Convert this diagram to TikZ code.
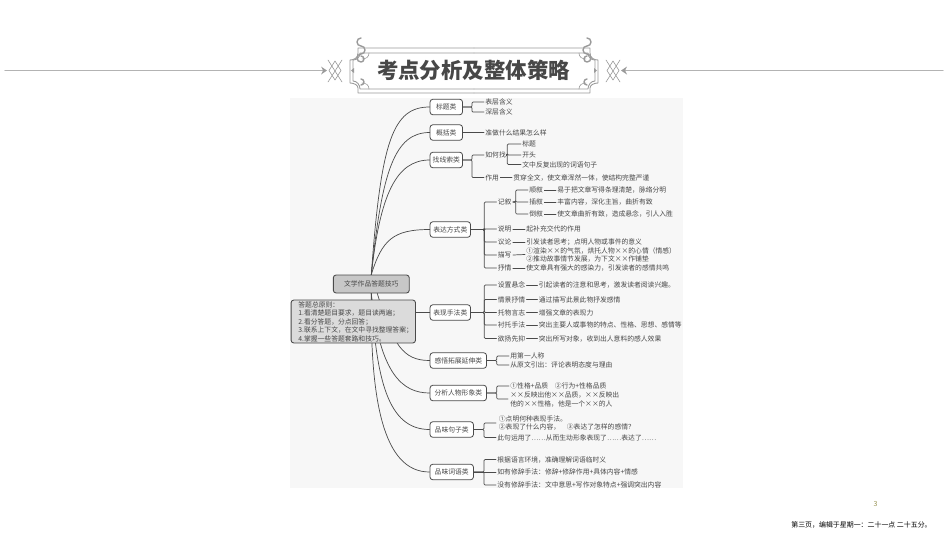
\documentclass[tikz,border=0pt]{standalone}
\usepackage{fontspec}
\setmainfont{Noto Sans CJK SC}
\usepackage{tikz}
\usetikzlibrary{positioning}
\definecolor{panelgray}{HTML}{F7F7F7}
\definecolor{linegray}{HTML}{4A4A4A}
\definecolor{framegray}{HTML}{9A9A9A}
\newcommand{\qdou}{\char"FF0C\relax}
\newcommand{\qmao}{\char"FF1A\relax}
\newcommand{\qfen}{\char"FF1B\relax}
\newcommand{\qwen}{\char"FF1F\relax}
\newcommand{\qzuo}{\char"FF08\relax}
\newcommand{\qyou}{\char"FF09\relax}
\tikzset{
  leaf/.style={anchor=west,inner sep=0.6pt,text=black!72,font=\fontsize{3.87}{4.6}\selectfont},
  cat/.style={draw=linegray,line width=0.45pt,rounded corners=1.6pt,fill=white,minimum height=0.31cm,inner sep=0pt,text=black!72,font=\fontsize{3.87}{4.6}\selectfont},
  conn/.style={draw=linegray,line width=0.4pt,rounded corners=0.6pt},
  curve/.style={draw=linegray,line width=0.4pt}
}
\begin{document}
\begin{tikzpicture}[line cap=round,line join=round,x=0.02cm,y=-0.02cm]
\useasboundingbox (0,0) rectangle (950,535);
% banner
\foreach \side in {1,-1} {
\begin{scope}[shift={(474,0)},xscale=\side]
\draw [framegray!75,line width=0.8pt] (-469,70.5)-- (-149,70.5);
\fill [framegray] (-147,70.5)-- (-153,66.5)-- (-151,70.5)-- (-153,74.5)-- cycle;
\draw [framegray,line width=0.35pt] (-146,60)-- (-132,82) (-132,60)-- (-146,82) (-139,61)-- (-133,70.5)-- (-139,80)-- (-145,70.5)-- cycle;
\draw [framegray,line width=0.5pt] (0,48)-- (-116,48)-- (-116,53) .. controls (-116,58) and (-120,60) .. (-124,60)-- (-124,83) .. controls (-120,83) and (-116,85) .. (-116,88)-- (-116,93)-- (0,93);
\draw [framegray,line width=0.5pt] (0,53)-- (-114,53) .. controls (-114,57) and (-117,60) .. (-121,60)-- (-121,81) .. controls (-117,81) and (-114,85) .. (-114,89)-- (0,89);
\draw [framegray,line width=0.35pt] (-105,53) .. controls (-105,57) and (-108,59) .. (-112,59) (-105,89) .. controls (-105,85) and (-108,83) .. (-112,83);
\draw [framegray,line width=0.8pt] (-113,62) arc (90:270:4) arc (90:-90:4) arc (90:270:4) (-113,62) arc (90:-90:3) (-113,79) arc (-90:90:3);
\fill [framegray] (-123,70.5)-- (-120,68)-- (-120,73)-- cycle;
\end{scope}
}
\node (title) at (473.5,70.5) [inner sep=0pt,text=black!72,font=\fontsize{12.2}{14}\selectfont\bfseries] {考点分析及整体策略};
% panel
\fill [panelgray] (290,98) rectangle (683,488);
% main nodes
\node (root) at (371.3,284) [cat,fill=black!22,line width=0.5pt,minimum width=1.52cm,minimum height=0.36cm] {文学作品答题技巧};
\node (biaoti) at (446.3,107) [cat,minimum width=0.65cm] {标题类};
\node (gaikuo) at (446.3,132.5) [cat,minimum width=0.65cm] {概括类};
\node (xiansuo) at (446.3,160) [cat,minimum width=0.65cm] {找线索类};
\node (biaoda) at (450.3,229.5) [cat,minimum width=0.81cm] {表达方式类};
\node (shoufa) at (450.3,312.5) [cat,minimum width=0.81cm] {表现手法类};
\node (ganwu) at (458.3,360.5) [cat,minimum width=1.13cm] {感悟拓展延伸类};
\node (renwu) at (458.3,393) [cat,minimum width=1.13cm] {分析人物形象类};
\node (juzi) at (451.7,429.5) [cat,minimum width=0.87cm] {品味句子类};
\node (ciyu) at (451.7,472) [cat,minimum width=0.87cm] {品味词语类};
% curves from the root
\draw [curve] (root.north) .. controls (381,140) and (393,107) .. (biaoti.west);
\draw [curve] (root.north) .. controls (382,170) and (395,132.5) .. (gaikuo.west);
\draw [curve] (root.north) .. controls (380,195) and (396,160) .. (xiansuo.west);
\draw [curve] (root.north) .. controls (382,240) and (393,229.5) .. (biaoda.west);
\draw [curve] ([xshift=0.12cm]root.south) .. controls (393,345) and (403,360.5) .. (ganwu.west);
\draw [curve] (root.south) .. controls (380,375) and (403,393) .. (renwu.west);
\draw [curve] (root.south) .. controls (376,380) and (388,429.5) .. (juzi.west);
\draw [curve] (root.south) .. controls (370,400) and (383,472) .. (ciyu.west);
% principles
\node (yuanzebox) at (353.3,321.5) [draw=linegray,line width=0.5pt,rounded corners=1.6pt,fill=black!14,minimum width=2.49cm,minimum height=0.86cm] {};
\draw [curve] (yuanzebox.east |- shoufa.west) -- (shoufa.west);
\node (yuanze0) at (297,305) [leaf] {答题总原则\qmao};
\node (yuanze1) at (297,313.5) [leaf] {1.看清楚题目要求\qdou 题目读两遍\qfen};
\node (yuanze2) at (297,322) [leaf] {2.看分答题\qdou 分点回答\qfen};
\node (yuanze3) at (297,330) [leaf] {3.联系上下文\qdou 在文中寻找整理答案\qfen};
\node (yuanze4) at (297,338.5) [leaf] {4.掌握一些答题套路和技巧。};
% biaoti
\node (b1) at (484,102) [leaf] {表层含义};
\node (b2) at (484,112) [leaf] {深层含义};
\draw [conn] (biaoti.east) -- ++(9,0) |- (b1.west);
\draw [conn] (biaoti.east) -- ++(9,0) |- (b2.west);
% gaikuo
\node (g1) at (484,132.5) [leaf] {准做什么结果怎么样};
\draw [conn] (gaikuo.east) -- (g1.west);
% xiansuo
\node (x1) at (484,155) [leaf] {如何找};
\node (x2) at (484,177.5) [leaf] {作用};
\node (x11) at (521,144) [leaf] {标题};
\node (x12) at (521,155) [leaf] {开头};
\node (x13) at (521,164.5) [leaf] {文中反复出现的词语句子};
\node (x21) at (512,177.5) [leaf] {贯穿全文\qdou 使文章浑然一体\qdou 使结构完整严谨};
\draw [conn] (xiansuo.east) -- ++(9,0) |- (x1.west);
\draw [conn] (xiansuo.east) -- ++(9,0) |- (x2.west);
\draw [conn] (x1.east) -- (507.3,155) |- (x11.west);
\draw [conn] (x1.east) -- (507.3,155) |- (x12.west);
\draw [conn] (x1.east) -- (507.3,155) |- (x13.west);
\draw [conn] (x2.east) -- (x21.west);
% biaoda
\node (d1) at (496.5,202) [leaf] {记叙};
\node (d2) at (496.5,229) [leaf] {说明};
\node (d3) at (496.5,242) [leaf] {议论};
\node (d4) at (496.5,255) [leaf] {描写};
\node (d5) at (496.5,268) [leaf] {抒情};
\node (d11) at (528,190) [leaf] {顺叙};
\node (d12) at (528,202) [leaf] {插叙};
\node (d13) at (528,214) [leaf] {倒叙};
\node (d111) at (556,190) [leaf] {易于把文章写得条理清楚\qdou 脉络分明};
\node (d121) at (556,202) [leaf] {丰富内容\qdou 深化主旨\qdou 曲折有致};
\node (d131) at (556,214) [leaf] {使文章曲折有致\qdou 造成悬念\qdou 引人入胜};
\node (d21) at (525,229) [leaf] {起补充交代的作用};
\node (d31) at (525,242) [leaf] {引发读者思考\qfen 点明人物或事件的意义};
\node (d41) at (525,254.5) [leaf,align=left] {①渲染××的气氛\qdou 烘托人物××的心情\qzuo 情感\qyou\\②推动故事情节发展\qdou 为下文××作铺垫};
\node (d51) at (525,268) [leaf] {使文章具有强大的感染力\qdou 引发读者的感情共鸣};
\foreach \leaf in {d1,d2,d3,d4,d5}
  \draw [conn] (biaoda.east) -- (484.3,229.5) |- (\leaf.west);
\foreach \leaf in {d11,d12,d13}
  \draw [conn] (d1.east) -- (515.7,202) |- (\leaf.west);
\draw [conn] (d11.east) -- (d111.west);
\draw [conn] (d12.east) -- (d121.west);
\draw [conn] (d13.east) -- (d131.west);
\draw [conn] (d2.east) -- (d21.west);
\draw [conn] (d3.east) -- (d31.west);
\draw [conn] (d4.east) -- (d41.west);
\draw [conn] (d5.east) -- (d51.west);
% shoufa
\node (s1) at (496.5,285) [leaf] {设置悬念};
\node (s2) at (496.5,299.5) [leaf] {情景抒情};
\node (s3) at (496.5,312.5) [leaf] {托物言志};
\node (s4) at (496.5,325) [leaf] {衬托手法};
\node (s5) at (496.5,338.5) [leaf] {欲扬先抑};
\node (s11) at (537.5,285) [leaf] {引起读者的注意和思考\qdou 激发读者阅读兴趣。};
\node (s21) at (537.5,299.5) [leaf] {通过描写此景此物抒发感情};
\node (s31) at (537.5,312.5) [leaf] {增强文章的表现力};
\node (s41) at (537.5,325) [leaf] {突出主要人或事物的特点、性格、思想、感情等};
\node (s51) at (537.5,338.5) [leaf] {突出所写对象\qdou 收到出人意料的感人效果};
\foreach \leaf in {s1,s2,s3,s4,s5}
  \draw [conn] (shoufa.east) -- (484.3,312.5) |- (\leaf.west);
\draw [conn] (s1.east) -- (s11.west);
\draw [conn] (s2.east) -- (s21.west);
\draw [conn] (s3.east) -- (s31.west);
\draw [conn] (s4.east) -- (s41.west);
\draw [conn] (s5.east) -- (s51.west);
% ganwu
\node (w1) at (509,356) [leaf] {用第一人称};
\node (w2) at (509,365) [leaf] {从原文引出\qmao 评论表明态度与理由};
\draw [conn] (ganwu.east) -- (496.7,360.5) |- (w1.west);
\draw [conn] (ganwu.east) -- (496.7,360.5) |- (w2.west);
% renwu
\node (r1) at (509,386) [leaf] {①性格+品质\quad ②行为+性格品质};
\node (r2) at (509,395) [leaf] {××反映出他××品质\qdou ××反映出};
\node (r3) at (509,403.5) [leaf] {他的××性格\qdou 他是一个××的人};
\coordinate (r2a) at (508,399);
\draw [conn] (renwu.east) -- (496.7,393) |- (r1.west);
\draw [conn] (renwu.east) -- (496.7,393) |- (r2a);
% juzi
\node (j1) at (497.5,418.5) [leaf] {①点明何种表现手法。};
\node (j2) at (497.5,427) [leaf] {②表现了什么内容\qdou \quad ③表达了怎样的感情\qwen};
\node (j3) at (496,437.5) [leaf] {此句运用了……从而生动形象表现了……表达了……};
\coordinate (j2a) at (496,423);
\draw [conn] (juzi.east) -- (484,429.5) |- (j2a);
\draw [conn] (juzi.east) -- (484,429.5) |- (j3.west);
% ciyu
\node (c1) at (496,459.5) [leaf] {根据语言环境\qdou 准确理解词语临时义};
\node (c2) at (496,472) [leaf] {如有修辞手法\qmao 修辞+修辞作用+具体内容+情感};
\node (c3) at (496,485) [leaf] {没有修辞手法\qmao 文中意思+写作对象特点+强调突出内容};
\draw [conn] (ciyu.east) -- (484,472) |- (c1.west);
\draw [conn] (ciyu.east) -- (c2.west);
\draw [conn] (ciyu.east) -- (484,472) |- (c3.west);
% footer
\node (pagenum) at (875.5,504) [inner sep=0pt,text=black!35!olive!70,font=\fontsize{4}{5}\selectfont] {3};
\node (footer) at (861.5,525) [inner sep=0pt,font=\fontsize{3.95}{5}\selectfont] {第三页\qdou 编辑于星期一\qmao 二十一点 二十五分。};
\end{tikzpicture}
\end{document}
